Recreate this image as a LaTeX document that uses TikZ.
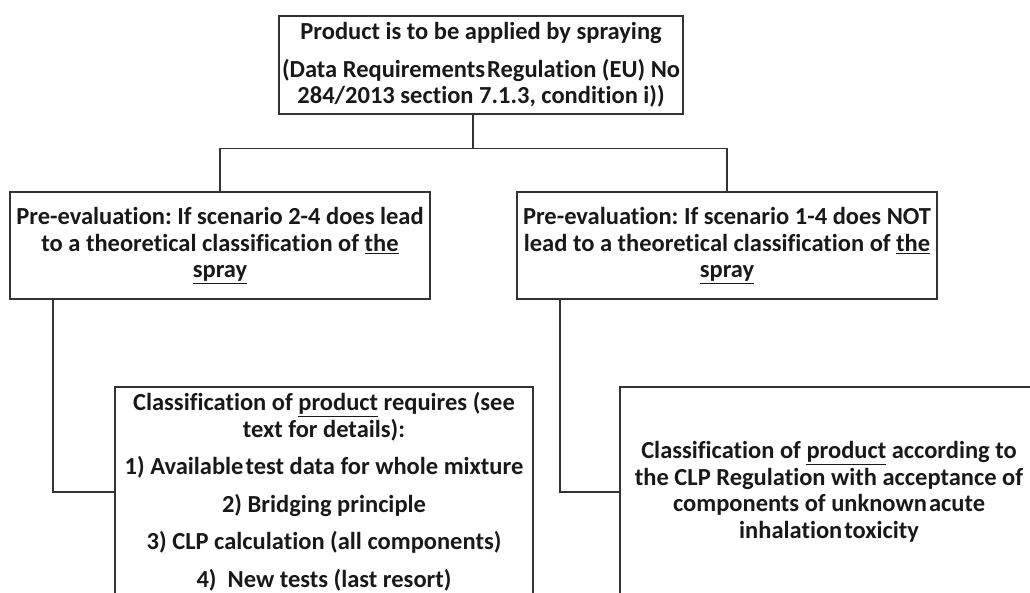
\documentclass[tikz,border=0pt]{standalone}
\usepackage{fontspec}
\setmainfont{Carlito}[Ligatures=NoCommon]
\newcommand{\tsp}{\hspace{2pt}}
\begin{document}
\frenchspacing
\begin{tikzpicture}[x=1pt,y=-1pt,
  box/.style={draw=black!80, line width=1.3pt, inner sep=0pt, align=center,
    font=\bfseries\fontsize{24.5}{26.5}\selectfont, text=black!90},
  conn/.style={draw=black!80, line width=1.3pt}]
\useasboundingbox (0,0) rectangle (1030,592);
\clip (0,0) rectangle (1030,592);
\node[box, minimum width=404pt, minimum height=98pt] (top) at (481,65)
  {Product is to be applied by spraying\\[11pt]
   (Data Requirements\tsp Regulation (EU) No\\
   284/2013 section 7.1.3, condition i))};
\node[box, minimum width=420pt, minimum height=107pt] (left) at (220,245.5)
  {Pre-evaluation: If scenario 2-4 does lead\\
   to a theoretical classification of \underline{the}\\
   \underline{spray}};
\node[box, minimum width=420pt, minimum height=107pt] (right) at (727,245.5)
  {Pre-evaluation: If scenario 1-4 does NOT\\
   lead to a theoretical classification of \underline{the}\\
   \underline{spray}};
\node[box, minimum width=418pt, minimum height=210pt] (lowleft) at (324,492)
  {Classification of \underline{product} requires (see\\
   text for details):\\[11pt]
   1) Available\tsp test data for whole mixture\\[11pt]
   2) Bridging principle\\[11pt]
   3) CLP calculation (all components)\\[11pt]
   4)\ \ New tests (last resort)};
\node[box, minimum width=418pt, minimum height=210pt] (lowright) at (829,492)
  {Classification of \underline{product} according to\\
   the CLP Regulation with acceptance of\\
   components of unknown\tsp acute\\
   inhalation\tsp toxicity};
\draw[conn] ([xshift=-8pt]top.south) -- ++(0,34) coordinate (split);
\draw[conn] (left.north) |- (split) -| (right.north);
\draw[conn] ([xshift=-167pt]left.south) |- (lowleft.west);
\draw[conn] ([xshift=-167pt]right.south) |- (lowright.west);
\end{tikzpicture}
\end{document}
